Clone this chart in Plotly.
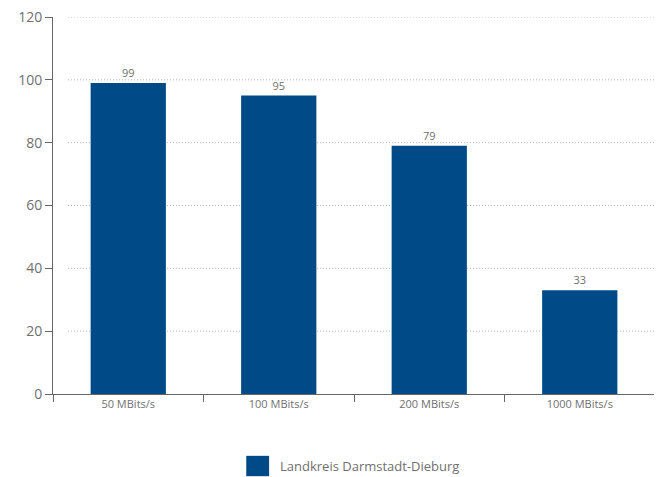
import plotly.graph_objects as go

categories = ["50 MBits/s", "100 MBits/s", "200 MBits/s", "1000 MBits/s"]
values = [99, 95, 79, 33]
series_name = "Landkreis Darmstadt-Dieburg"
y_ticks = [0, 20, 40, 60, 80, 100, 120]

BLUE = "#004a87"
GREY = "#707070"
FONT = "Open Sans"

fig = go.Figure()
fig.add_trace(go.Bar(
    x=categories, y=values, name=series_name,
    marker=dict(color=BLUE, line=dict(width=0)),
    text=[str(v) for v in values], textposition="outside",
    textfont=dict(family=FONT, size=11, color=GREY),
    cliponaxis=False, showlegend=False,
))

# dotted gridlines
for t in y_ticks[1:]:
    fig.add_shape(type="line", xref="paper", yref="y", x0=0.025, x1=1.0, y0=t, y1=t,
                  line=dict(color="#b4b4b4", width=1, dash="1px,2px"), layer="below")

# legend
fig.add_shape(type="rect", xref="paper", yref="paper", x0=0.321, x1=0.359, y0=-0.218, y1=-0.164,
              fillcolor=BLUE, line=dict(width=0))
fig.add_annotation(xref="paper", yref="paper", x=0.373, y=-0.19, text=series_name,
                   showarrow=False, xanchor="left", yanchor="middle",
                   font=dict(family=FONT, size=13, color=GREY))

fig.update_layout(
    width=654, height=469,
    margin=dict(l=45, r=7, t=9, b=83, autoexpand=False),
    paper_bgcolor="white", plot_bgcolor="white",
    bargap=0.5,
    font=dict(family=FONT, color=GREY),
    xaxis=dict(tickson="boundaries", ticks="outside", ticklen=7, tickcolor="#666",
               showline=True, linecolor="#666", linewidth=1, showgrid=False, automargin=False,
               tickfont=dict(family=FONT, size=11, color=GREY)),
    yaxis=dict(range=[0, 120], tickvals=y_ticks, ticks="outside", ticklen=7, tickcolor="#666",
               showline=True, linecolor="#666", linewidth=1, showgrid=False, zeroline=False,
               automargin=False, ticklabeloverflow="allow",
               tickfont=dict(family=FONT, size=14, color=GREY)),
)

fig.write_html("out.html")
